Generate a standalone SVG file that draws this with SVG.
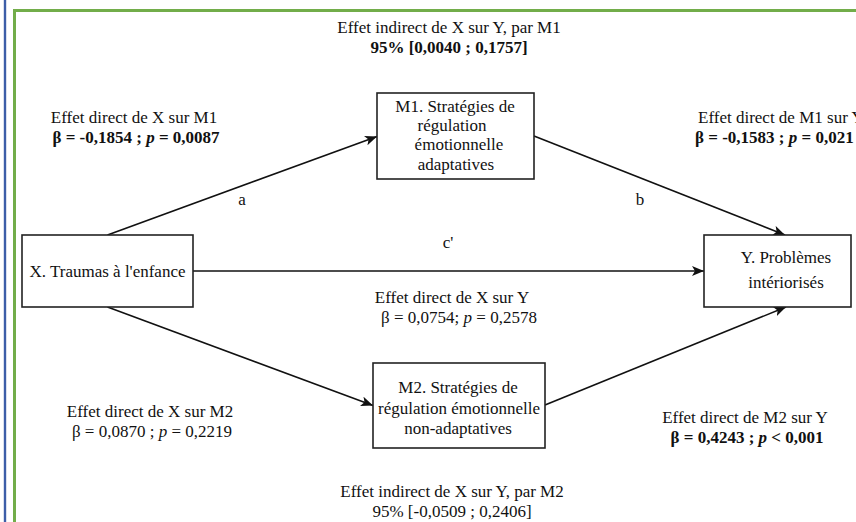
<svg xmlns="http://www.w3.org/2000/svg" width="856" height="522" viewBox="0 0 856 522">
<style>
text{font-family:"Liberation Serif","Times New Roman",serif;font-size:17px;fill:#111}
.c{text-anchor:middle}
.b{font-weight:bold}
.i{font-style:italic}
.box{fill:#fff;stroke:#222;stroke-width:1.6}
.edge{fill:none;stroke:#111;stroke-width:1.6}
</style>
<defs>
<marker id="arr" viewBox="0 0 12 10" refX="12" refY="5" markerWidth="12" markerHeight="10" markerUnits="userSpaceOnUse" orient="auto">
<path d="M0,0 L12,5 L0,10 L3,5 z" fill="#111"/>
</marker>
</defs>
<rect width="856" height="522" fill="#fff"/>
<g id="frame">
<line x1="5" y1="0" x2="5" y2="522" stroke="#3d5ea8" stroke-width="2.4"/>
<polyline points="14.5,522 14.5,10.5 856,10.5" fill="none" stroke="#72ad4a" stroke-width="3"/>
</g>
<g id="connectors">
<path class="edge" d="M107.5,235 L377,136.5" marker-end="url(#arr)"/>
<path class="edge" d="M534,136 L785,235" marker-end="url(#arr)"/>
<path class="edge" d="M193,271 L704,271" marker-end="url(#arr)"/>
<path class="edge" d="M107.5,307 L373,405.5" marker-end="url(#arr)"/>
<path class="edge" d="M545,405 L786,307" marker-end="url(#arr)"/>
</g>
<g id="node-x">
<rect class="box" x="22" y="235" width="171" height="72"/>
<text class="c" x="107.5" y="277">X. Traumas à l'enfance</text>
</g>
<g id="node-m1">
<rect class="box" x="377" y="93" width="157" height="86"/>
<text class="c" x="455" y="112">M1. Stratégies de</text>
<text class="c" x="452" y="131">régulation</text>
<text class="c" x="459" y="150">émotionnelle</text>
<text class="c" x="456" y="170">adaptatives</text>
</g>
<g id="node-m2">
<rect class="box" x="373" y="363" width="172" height="85"/>
<text class="c" x="458" y="393">M2. Stratégies de</text>
<text class="c" x="459" y="414">régulation émotionnelle</text>
<text class="c" x="458" y="434">non-adaptatives</text>
</g>
<g id="node-y">
<rect class="box" x="704" y="235" width="147" height="72"/>
<text class="c" x="786" y="263">Y. Problèmes</text>
<text class="c" x="786" y="288">intériorisés</text>
</g>
<g id="labels">
<text class="c" x="449" y="33">Effet indirect de X sur Y, par M1</text>
<text class="c b" x="449" y="53">95% [0,0040 ; 0,1757]</text>
<text class="c" x="134" y="123">Effet direct de X sur M1</text>
<text class="c b" x="136" y="143">β = -0,1854 ; <tspan class="i">p</tspan> = 0,0087</text>
<text x="698" y="123">Effet direct de M1 sur Y</text>
<text class="b" x="695" y="143">β  = -0,1583 ; <tspan class="i">p</tspan> = 0,021</text>
<text class="c" x="242" y="205">a</text>
<text class="c" x="640" y="205">b</text>
<text class="c" x="448" y="248">c'</text>
<text class="c" x="452" y="303">Effet direct de X sur Y</text>
<text class="c" x="459" y="323">β = 0,0754; <tspan class="i">p</tspan> = 0,2578</text>
<text class="c" x="150" y="417">Effet direct de X sur M2</text>
<text class="c" x="152" y="437">β = 0,0870 ; <tspan class="i">p</tspan> = 0,2219</text>
<text class="c" x="745" y="423">Effet direct de M2 sur Y</text>
<text class="c b" x="747" y="443">β = 0,4243 ; <tspan class="i">p</tspan> &lt; 0,001</text>
<text class="c" x="452" y="497">Effet indirect de X sur Y, par M2</text>
<text class="c" x="452" y="517">95% [-0,0509 ; 0,2406]</text>
</g>
</svg>
